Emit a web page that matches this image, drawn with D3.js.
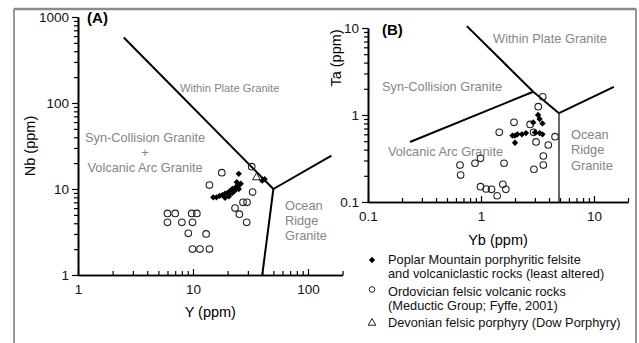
<!DOCTYPE html>
<html><head><meta charset="utf-8">
<script src="https://cdn.jsdelivr.net/npm/d3@7"></script>
<style>
html,body{margin:0;padding:0;background:#fff;}
svg{display:block;font-family:"Liberation Sans",Arial,sans-serif;}
</style></head>
<body>
<svg id="c" width="639" height="343"></svg>
<script>
// ---------- DATA ----------
// Panel A: Nb vs Y
const ordA_Y  = [32.4,17.8,13.9,33,27.2,29.5,23.2,25.3,29.3,6.0,7.0,9.75,10.8,6.0,8.0,9.9,9.1,13,9.9,11.5,13.9];
const ordA_Nb = [18.2,15.5,11.1,9.2,7,7,6,5.1,4.1,5.2,5.2,5.2,5.2,4.1,4.1,4.1,3.05,3.0,2,2,2];
const popA_Y  = [15,16,17,18,19,20,20.5,21,22,22,23,23.5,24,25,25,26,24,25,42,40,19,21];
const popA_Nb = [8,8,8.3,8.5,8.8,9,8.2,9.5,9,10,9.5,10.5,10.5,10,11,11.5,12,15,13,12.5,7.9,8.8];
const dowA_Y  = [35.6];
const dowA_Nb = [13.6];
// Panel B: Ta vs Yb
const ordB_Yb = [3.52,3.21,1.96,1.45,2.72,2.92,3.07,4.52,3.94,3.56,3.56,2.94,1.6,0.99,0.885,0.652,0.66,0.99,1.11,1.24,1.39,1.56,1.66];
const ordB_Ta = [1.62,1.245,0.824,0.632,0.78,0.632,0.49,0.564,0.452,0.338,0.266,0.238,0.279,0.318,0.279,0.266,0.204,0.15,0.141,0.14,0.118,0.16,0.14];
const popB_Yb = [1.9,2.0,2.1,2.3,2.5,2.0,2.9,3.2,3.5,3.5,3.0,3.3,3.3];
const popB_Ta = [0.58,0.58,0.6,0.6,0.62,0.48,0.82,1.0,0.8,0.6,0.63,0.9,0.62];
// Discrimination boundaries (Pearce et al. 1984)
const boundA = [[[2.5,578],[50,10]], [[50,10],[40,1]], [[50,10],[160,24.4]]];
const boundB = [[[0.75,10.5],[2.9,1.85]], [[2.9,1.85],[4.9,1.05]], [[4.9,1.05],[15,2.1]], [[0.235,0.49],[2.9,1.85]]];
const boundBthin = [[[4.9,1.05],[4.9,0.1]]];
// Tick labels
const ticksA_x = [1,10,100], ticksA_y = [1,10,100,1000];
const ticksB_x = [0.1,1,10], ticksB_y = [0.1,1,10];
// Field labels [text, x, y, anchor]
const fieldsA = [["Syn-Collision Granite",3.83,40.2,"middle"],["+",3.83,26.9,"middle"],["Volcanic Arc Granite",3.83,18.0,"middle"],["Ocean",63,6.35,"start"],["Ridge",63,4.25,"start"],["Granite",63,2.84,"start"]];
const fieldsA_wpg = [["Within Plate Granite",7.7,149,"start"]];
const fieldsB = [["Within Plate Granite",1.28,7.67,"start"],["Syn-Collision Granite",0.133,2.15,"start"],["Volcanic Arc Granite",0.15,0.376,"start"],["Ocean",6.25,0.589,"start"],["Ridge",6.25,0.396,"start"],["Granite",6.25,0.266,"start"]];
const legendItems = [["diamond",["Poplar Mountain porphyritic felsite","and volcaniclastic rocks (least altered)"]],["circle",["Ordovician felsic volcanic rocks","(Meductic Group; Fyffe, 2001)"]],["triangle",["Devonian felsic porphyry (Dow Porphyry)"]]];

// ---------- DRAW ----------
const svg = d3.select("#c");
// frame
svg.append("rect").attr("x",14).attr("y",9).attr("width",622).attr("height",345)
  .attr("fill","none").attr("stroke","#333").attr("stroke-width",1);
svg.append("line").attr("x1",14).attr("x2",636).attr("y1",9).attr("y2",9).attr("stroke","#8a8a8a").attr("stroke-width",2.5);

const xA = d3.scaleLog().domain([1,200]).range([78, 78+115*Math.log10(200)]);
const yA = d3.scaleLog().domain([1,1000]).range([275,17]);
const xB = d3.scaleLog().domain([0.1,20]).range([368, 368+113*Math.log10(200)]);
const yB = d3.scaleLog().domain([0.1,10]).range([202,28]);

function minors(lo,hi){const out=[];for(let e=Math.floor(Math.log10(lo));e<=Math.ceil(Math.log10(hi));e++){for(let m=2;m<=9;m++){const v=m*Math.pow(10,e);if(v>=lo*0.999&&v<=hi*1.001)out.push(v);}}return out;}
const fmt = d=>String(d);

function drawAxes(x,y,tx,ty){
  const gx = svg.append("g").attr("transform",`translate(0,${y.range()[0]})`);
  gx.call(d3.axisBottom(x).tickValues(tx).tickFormat(fmt).tickSizeInner(-6).tickSizeOuter(0).tickPadding(9));
  gx.append("g").call(d3.axisBottom(x).tickValues(minors(...x.domain())).tickFormat("").tickSizeInner(-4).tickSizeOuter(0));
  const gy = svg.append("g").attr("transform",`translate(${x.range()[0]},0)`);
  gy.call(d3.axisLeft(y).tickValues(ty).tickFormat(fmt).tickSizeInner(6).tickSizeOuter(0).tickPadding(3));
  gy.append("g").call(d3.axisLeft(y).tickValues(minors(...y.domain())).tickFormat("").tickSizeInner(4).tickSizeOuter(0));
  [gx,gy].forEach(g=>{
    g.selectAll("path.domain").attr("stroke","#000").attr("stroke-width",1.6);
    g.selectAll("line").attr("stroke","#000").attr("stroke-width",1.2);
    g.selectAll("text").attr("font-size",13.5).attr("fill","#111").attr("font-family","Liberation Sans, Arial, sans-serif");
  });
}
drawAxes(xA,yA,ticksA_x,ticksA_y);
drawAxes(xB,yB,ticksB_x,ticksB_y);

function drawBounds(x,y,segs,w){
  const line = d3.line().x(d=>x(d[0])).y(d=>y(d[1]));
  svg.append("g").selectAll("path").data(segs).join("path")
    .attr("d",line).attr("fill","none").attr("stroke","#000").attr("stroke-width",w);
}
drawBounds(xA,yA,boundA,2);
drawBounds(xB,yB,boundB,2);
drawBounds(xB,yB,boundBthin,1.2);

function drawFields(x,y,f,fs){
  svg.append("g").selectAll("text").data(f).join("text")
    .attr("x",d=>x(d[1])).attr("y",d=>y(d[2])).attr("dy","0.35em")
    .attr("text-anchor",d=>d[3]).attr("font-size",fs).attr("fill","#858585").text(d=>d[0]);
}
drawFields(xA,yA,fieldsA,12.8);
drawFields(xA,yA,fieldsA_wpg,11.2);
drawFields(xB,yB,fieldsB,12.8);

// panel labels & axis titles
svg.append("text").attr("x",xA(1.2)).attr("y",yA(973)).attr("dy","0.35em").attr("font-size",15).attr("font-weight","bold").text("(A)");
svg.append("text").attr("x",xB(0.133)).attr("y",yB(9.5)).attr("dy","0.35em").attr("font-size",15).attr("font-weight","bold").text("(B)");
svg.append("text").attr("x",(xA.range()[0]+xA.range()[1])/2).attr("y",yA.range()[0]+37).attr("dy","0.35em").attr("text-anchor","middle").attr("font-size",14.5).text("Y (ppm)");
svg.append("text").attr("x",(xB.range()[0]+xB.range()[1])/2).attr("y",yB.range()[0]+38).attr("dy","0.35em").attr("text-anchor","middle").attr("font-size",14.5).text("Yb (ppm)");
svg.append("text").attr("transform",`translate(30,${(yA.range()[0]+yA.range()[1])/2}) rotate(-90)`).attr("dy","0.35em").attr("text-anchor","middle").attr("font-size",14.5).text("Nb (ppm)");
svg.append("text").attr("transform",`translate(336,58) rotate(-90)`).attr("dy","0.35em").attr("text-anchor","middle").attr("font-size",14.5).text("Ta (ppm)");

// markers
const diamond = d3.symbol().type(d3.symbolSquare).size(20);
const tri = d3.symbol().type(d3.symbolTriangle).size(26);
function circles(x,y,xs,ys){
  svg.append("g").selectAll("circle").data(xs.map((v,i)=>[v,ys[i]])).join("circle")
    .attr("cx",d=>x(d[0])).attr("cy",d=>y(d[1])).attr("r",3.3)
    .attr("fill","none").attr("stroke","#222").attr("stroke-width",1.1);
}
function diamonds(x,y,xs,ys){
  svg.append("g").selectAll("path").data(xs.map((v,i)=>[v,ys[i]])).join("path")
    .attr("d",diamond).attr("transform",d=>`translate(${x(d[0])},${y(d[1])}) rotate(45)`).attr("fill","#000");
}
function triangles(x,y,xs,ys){
  svg.append("g").selectAll("path").data(xs.map((v,i)=>[v,ys[i]])).join("path")
    .attr("d",tri).attr("transform",d=>`translate(${x(d[0])},${y(d[1])})`).attr("fill","none").attr("stroke","#222").attr("stroke-width",1);
}
circles(xA,yA,ordA_Y,ordA_Nb);
diamonds(xA,yA,popA_Y,popA_Nb);
triangles(xA,yA,dowA_Y,dowA_Nb);
circles(xB,yB,ordB_Yb,ordB_Ta);
diamonds(xB,yB,popB_Yb,popB_Ta);

// legend
const lg = svg.append("g").attr("transform","translate(372,260)");
const lineH = 14, gap = 3.5;
let yy = 0;
legendItems.forEach(([sym,lines])=>{
  const g = lg.append("g").attr("transform",`translate(0,${yy})`);
  if(sym==="diamond") g.append("path").attr("d",diamond).attr("transform","rotate(45)").attr("fill","#000");
  if(sym==="circle") g.append("circle").attr("cy",-2).attr("r",2.8).attr("fill","none").attr("stroke","#222").attr("stroke-width",1);
  if(sym==="triangle") g.append("path").attr("d",tri).attr("fill","none").attr("stroke","#222").attr("stroke-width",1);
  lines.forEach((t,i)=>g.append("text").attr("x",16).attr("y",i*lineH).attr("dy","0.35em").attr("font-size",12.8).attr("fill","#111").text(t));
  yy += lines.length*lineH + gap;
});
</script>
</body></html>
